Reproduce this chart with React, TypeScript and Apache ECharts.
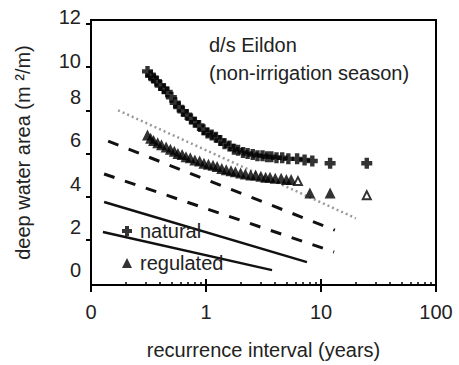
import React, { useEffect, useRef } from "react";
import * as echarts from "echarts";

const FONT = "'Liberation Sans', Arial, sans-serif";

// natural (x = recurrence interval, y = deep water area)
const natural: [number, number][] = [
  [0.31, 9.8], [0.33, 9.6], [0.35, 9.5], [0.37, 9.35], [0.4, 9.15], [0.43, 9.0],
  [0.46, 8.85], [0.5, 8.6], [0.54, 8.35], [0.58, 8.15], [0.63, 7.95], [0.68, 7.8],
  [0.74, 7.6], [0.8, 7.45], [0.87, 7.3], [0.95, 7.1], [1.03, 6.95], [1.12, 6.85],
  [1.22, 6.75], [1.33, 6.6], [1.45, 6.45], [1.6, 6.35], [1.75, 6.2], [1.9, 6.15],
  [2.1, 6.05], [2.3, 6.0], [2.55, 5.95], [2.8, 5.9], [3.1, 5.9], [3.4, 5.85],
  [3.7, 5.85], [4.1, 5.8], [4.6, 5.8], [5.2, 5.75], [6.2, 5.75], [7.2, 5.7],
  [8.4, 5.65], [12, 5.55], [25, 5.55],
];

const regulated: [number, number][] = [
  [0.31, 6.85], [0.33, 6.7], [0.35, 6.6], [0.38, 6.5], [0.41, 6.4], [0.45, 6.3],
  [0.49, 6.2], [0.53, 6.1], [0.57, 6.0], [0.62, 5.95], [0.67, 5.85], [0.73, 5.8],
  [0.8, 5.7], [0.88, 5.65], [0.96, 5.55], [1.05, 5.5], [1.15, 5.45], [1.25, 5.4],
  [1.37, 5.3], [1.5, 5.25], [1.65, 5.2], [1.8, 5.15], [2.0, 5.1], [2.2, 5.05],
  [2.45, 5.0], [2.7, 5.0], [3.0, 4.95], [3.3, 4.9], [3.6, 4.9], [4.0, 4.85],
  [4.5, 4.85], [5.0, 4.8], [5.5, 4.8], [8.0, 4.17], [12, 4.17],
];

const regulatedOpen: [number, number][] = [
  [6.3, 4.72], [25, 4.07],
];

// reference lines (start / end)
const dottedLine: [number, number][] = [[0.172, 8.0], [20.1, 3.0]];
const dashedA: [number, number][] = [[0.141, 6.57], [13.2, 2.45]];
const dashedB: [number, number][] = [[0.13, 5.05], [13.0, 1.44]];
const solidC: [number, number][] = [[0.13, 3.75], [7.55, 0.97]];
const solidD: [number, number][] = [[0.127, 2.36], [3.75, 0.6]];

const yLabelValues = [0, 2, 4, 6, 8, 10, 12];
const yTickValues = [2, 4, 6, 8, 10, 12];
const xMinorTicks = [
  0.2, 0.3, 0.4, 0.5, 0.6, 0.7, 0.8, 0.9,
  2, 3, 4, 5, 6, 7, 8, 9,
  20, 30, 40, 50, 60, 70, 80, 90,
];
const xMajorTicks = [1, 10];

const PLUS = "path://M3,0H7V3H10V7H7V10H3V7H0V3H3Z";

export default function App() {
  const ref = useRef<HTMLDivElement>(null);
  useEffect(() => {
    if (!ref.current) return;
    const chart = echarts.init(ref.current, undefined, { renderer: "svg" });
    const lineSeries = (name: string, data: [number, number][], type: any, width: number, color: string) => ({
      name,
      type: "line",
      data,
      xAxisIndex: 0,
      showSymbol: false,
      symbol: "none",
      silent: true,
      z: 1,
      lineStyle: { color, width, type },
    });
    const tickAxis = (values: number[], length: number, width: number) => ({
      type: "value",
      min: -1,
      max: 2,
      position: "bottom",
      axisLine: { show: false, onZero: false },
      axisLabel: { show: false },
      splitLine: { show: false },
      axisTick: {
        show: true,
        inside: true,
        length,
        customValues: values.map((v) => Math.log10(v)),
        lineStyle: { color: "#000", width },
      },
    });
    chart.setOption({
      animation: false,
      backgroundColor: "#fff",
      textStyle: { fontFamily: FONT },
      title: {
        text: "d/s Eildon\n(non-irrigation season)",
        left: 209,
        top: 31,
        padding: 0,
        textStyle: { fontSize: 20, fontWeight: "normal", lineHeight: 28, color: "#222", fontFamily: FONT },
      },
      legend: {
        data: ["natural", "regulated"],
        orient: "vertical",
        left: 122,
        top: 221,
        padding: 0,
        itemGap: 12,
        itemWidth: 10,
        itemHeight: 10,
        textStyle: { fontSize: 20, color: "#222", fontFamily: FONT, lineHeight: 20, padding: [0, 0, 0, 3] },
      },
      grid: {
        left: 91,
        right: 23,
        top: 20,
        bottom: 80,
        show: true,
        borderColor: "#000",
        borderWidth: 2,
        backgroundColor: "transparent",
        outerBoundsMode: "none",
      },
      xAxis: [
        {
          type: "log",
          logBase: 10,
          min: 0.1,
          max: 100,
          name: "recurrence interval (years)",
          nameLocation: "middle",
          nameGap: 55,
          nameTextStyle: { fontSize: 20, color: "#222", fontFamily: FONT },
          axisLine: { onZero: false, lineStyle: { color: "#000", width: 2 } },
          axisTick: { show: true, inside: false, length: 7, lineStyle: { color: "#000", width: 2 } },
          axisLabel: {
            fontSize: 20,
            color: "#222",
            margin: 17,
            fontFamily: FONT,
            formatter: (v: number) => (v < 0.5 ? "0" : String(Math.round(v))),
          },
          splitLine: { show: false },
          minorTick: { show: false },
        },
        tickAxis(xMinorTicks, 3, 1.5),
        tickAxis(xMajorTicks, 6, 2),
      ],
      yAxis: {
        type: "value",
        min: -0.09,
        max: 12.18,
        name: "deep water area (m \u00b2/m)",
        nameLocation: "middle",
        nameGap: 58,
        nameTextStyle: { fontSize: 20, color: "#222", fontFamily: FONT },
        axisLine: { show: true, onZero: false, lineStyle: { color: "#000", width: 2 } },
        axisTick: { show: true, length: 5, customValues: yTickValues, lineStyle: { color: "#000", width: 2 } },
        axisLabel: {
          customValues: yLabelValues,
          margin: 10,
          verticalAlign: "bottom",
          color: "#222",
          fontSize: 20,
          fontFamily: FONT,
          formatter: (v: number) => (v >= 10 ? `{a|${v}}` : `{b|${v}}`),
          rich: {
            a: { fontSize: 20, lineHeight: 13, color: "#222", fontFamily: FONT },
            b: { fontSize: 20, lineHeight: 26, color: "#222", fontFamily: FONT },
          },
        },
        splitLine: { show: false },
      },
      series: [
        lineSeries("dotted", dottedLine, [2, 3], 2.5, "#9a9a9a"),
        lineSeries("dashedA", dashedA, [11, 11], 3, "#111"),
        lineSeries("dashedB", dashedB, [11, 11], 3, "#111"),
        lineSeries("solidC", solidC, "solid", 2.5, "#111"),
        lineSeries("solidD", solidD, "solid", 2.5, "#111"),
        {
          name: "natural",
          type: "scatter",
          data: natural,
          symbol: PLUS,
          symbolSize: 11,
          itemStyle: { color: "#000" },
          z: 3,
        },
        {
          name: "regulated",
          type: "scatter",
          data: regulated,
          symbol: "triangle",
          symbolSize: 11,
          itemStyle: { color: "#000" },
          z: 3,
        },
        {
          name: "regulatedOpen",
          type: "scatter",
          data: regulatedOpen,
          symbol: "emptyTriangle",
          symbolSize: 8,
          itemStyle: { color: "#000", borderWidth: 2 },
          z: 3,
        },
      ],
    });
    return () => chart.dispose();
  }, []);
  return (
    <div
      ref={ref}
      style={{ position: "fixed", left: 0, top: 0, width: 459, height: 365 }}
    />
  );
}
